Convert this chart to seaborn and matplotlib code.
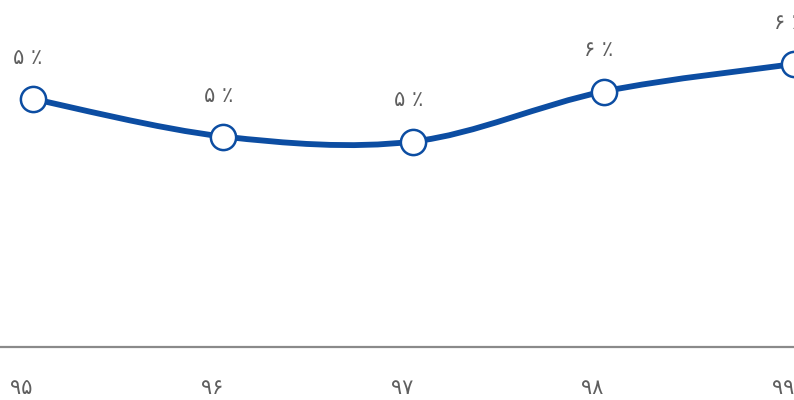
import numpy as np
import pandas as pd
import matplotlib
matplotlib.use("Agg")
import matplotlib.pyplot as plt
from matplotlib.path import Path
from matplotlib.patches import PathPatch
import seaborn as sns

# Yearly share (percent), years in Persian numerals
years = ["۹۵", "۹۶", "۹۷", "۹۸", "۹۹"]
values = [5.45, 4.70, 4.60, 5.60, 6.15]

PERSIAN_DIGITS = "۰۱۲۳۴۵۶۷۸۹"


def to_persian(n):
    return "".join(PERSIAN_DIGITS[int(d)] for d in str(n))


LINE_COLOR = "#0c4da2"
TEXT_COLOR = "#5f5f5f"

sns.set_theme(style="white")
plt.rcParams["font.family"] = ["DejaVu Sans"]

df = pd.DataFrame({"year": years, "value": values, "pos": np.arange(len(years))})

fig = plt.figure(figsize=(7.94, 4.0), dpi=100)
ax = fig.add_axes([0, 53 / 400, 1, 347 / 400])

# Smooth curve through the points (Catmull-Rom segments as cubic Beziers)
pts = np.column_stack([df["pos"].to_numpy(float), df["value"].to_numpy(float)])
ext = np.vstack([pts[0], pts, pts[-1]])
verts = [tuple(pts[0])]
codes = [Path.MOVETO]
for i in range(len(pts) - 1):
    p0, p1, p2, p3 = ext[i], ext[i + 1], ext[i + 2], ext[i + 3]
    c1 = p1 + (p2 - p0) / 6.0
    c2 = p2 - (p3 - p1) / 6.0
    verts += [tuple(c1), tuple(c2), tuple(p2)]
    codes += [Path.CURVE4] * 3
ax.add_patch(PathPatch(Path(verts, codes), facecolor="none",
                       edgecolor=LINE_COLOR, lw=4.2, capstyle="round",
                       zorder=2, clip_on=False))

sns.scatterplot(data=df, x="pos", y="value", ax=ax, s=330, marker="o",
                facecolor="white", edgecolor=LINE_COLOR, linewidth=1.8,
                zorder=3, clip_on=False, legend=False)

for x, v in zip(df["pos"], df["value"]):
    ax.annotate(f"{to_persian(int(round(v)))} ٪", (x, v),
                xytext=(-5, 41), textcoords="offset pixels",
                ha="center", va="center", fontsize=15, color=TEXT_COLOR,
                annotation_clip=False)

ax.set_xlim(-0.173, 3.975)
ax.set_ylim(0.49, 7.43)
ax.set_xticks(df["pos"])
ax.set_xticklabels(years, fontsize=15, color=TEXT_COLOR, ha="right")
ax.set_yticks([])
ax.tick_params(axis="x", length=0, pad=22)
ax.set_xlabel("")
ax.set_ylabel("")

for side in ["top", "left", "right"]:
    ax.spines[side].set_visible(False)
ax.spines["bottom"].set_color("#8a8a8a")
ax.spines["bottom"].set_linewidth(1.6)

fig.savefig("out.png", dpi=100, facecolor="white")
